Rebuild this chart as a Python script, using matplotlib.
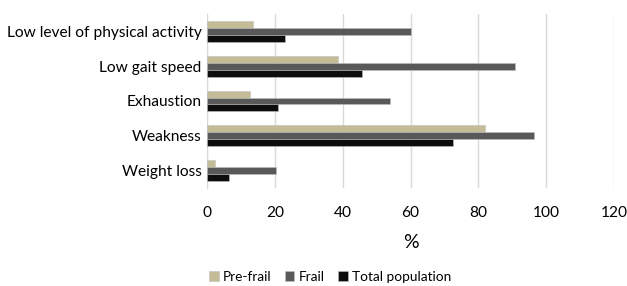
import numpy as np
import matplotlib.pyplot as plt

plt.rcParams['font.family'] = ['Lato', 'DejaVu Sans']

# data
categories = ['Low level of physical activity', 'Low gait speed', 'Exhaustion', 'Weakness', 'Weight loss']
pre_frail = [13.7, 38.6, 12.8, 82.0, 2.5]
frail = [60.0, 90.7, 54.0, 96.3, 20.3]
total = [23.0, 45.6, 21.0, 72.5, 6.6]
series_names = ['Pre-frail', 'Frail', 'Total population']
colors = ['#C4BC96', '#595959', '#0D0D0D']

fig = plt.figure(figsize=(6.27, 2.86), dpi=100)
ax = fig.add_axes([207 / 627, 1 - 188 / 286, (614 - 207) / 627, (188 - 14) / 286])

n = len(categories)
y = np.arange(n)[::-1]  # first category on top
h = 0.2
for i, (vals, name, c) in enumerate(zip([pre_frail, frail, total], series_names, colors)):
    ax.barh(y + (1 - i) * h, vals, height=h, color=c, label=name,
            edgecolor='#BFBFBF', linewidth=0.4, zorder=3)

ax.set_xlim(0, 120)
ax.set_xticks(range(0, 121, 20))
ax.set_ylim(-0.5, n - 0.5)
ax.set_yticks(y)
ax.set_yticklabels(categories, fontsize=11.2)
ax.grid(axis='x', color='#D9D9D9', linewidth=1, zorder=0)
for s in ['top', 'right', 'bottom']:
    ax.spines[s].set_visible(False)
ax.spines['left'].set_color('#D9D9D9')
ax.tick_params(axis='both', length=0, labelsize=11.2, colors='black')
ax.tick_params(axis='x', pad=13)
ax.tick_params(axis='y', pad=4)
ax.set_xlabel('%', fontsize=14, labelpad=10)

leg = fig.legend(loc='center', bbox_to_anchor=(330 / 627, 1 - 277 / 286), ncol=3,
                 frameon=False, fontsize=9.8, handlelength=0.7, handleheight=0.7,
                 handletextpad=0.3, columnspacing=1.0)

fig.savefig('out.png', dpi=100)
